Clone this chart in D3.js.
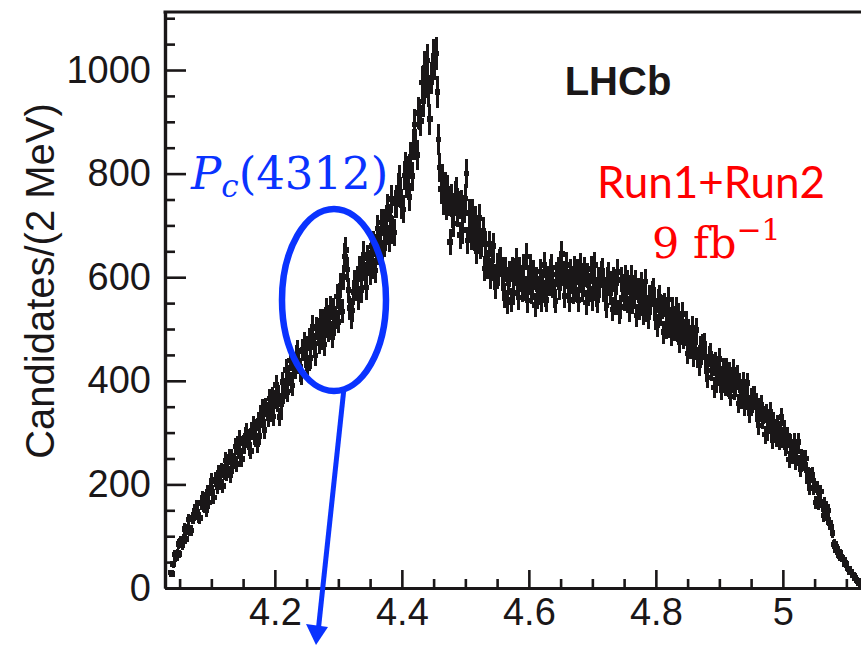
<!DOCTYPE html>
<html><head><meta charset="utf-8">
<script src="https://cdn.jsdelivr.net/npm/d3@7"></script>
<style>html,body{margin:0;padding:0;background:#fff}svg{display:block}</style>
</head><body>
<svg id="chart" width="861" height="645"></svg>
<script>
// m(J/psi p) histogram, 2 MeV bins starting at 4.035 GeV
const binStart = 4.035;
const binWidth = 0.002;
const counts = [
30,27,46,65,58,67,85,66,91,83,
94,114,95,113,132,111,111,135,135,149,
157,147,137,135,164,174,160,172,150,185,
165,191,207,186,175,209,204,195,223,203,
227,197,224,246,221,230,253,217,252,235,
245,273,239,265,288,254,249,279,276,294,
302,286,271,265,304,314,293,308,277,322,
294,327,347,320,305,348,341,329,366,339,
369,331,364,392,359,372,330,354,398,374,
385,421,378,410,439,397,391,429,425,448,
458,439,419,413,460,472,446,464,425,480,
444,482,505,471,449,501,491,473,515,481,
515,470,506,537,498,510,540,485,537,509,
522,563,514,550,584,534,600,640,652,615,
575,540,522,536,571,590,578,598,560,616,
575,618,644,604,580,637,628,610,660,622,
664,613,657,694,650,667,706,645,706,676,
689,734,674,714,751,691,686,742,741,773,
788,764,739,731,796,813,780,805,755,833,
795,856,895,856,836,917,914,902,976,940,
1005,978,1018,960,905,985,1002,1028,1012,1032,
958,866,812,770,790,748,775,738,770,745,
668,753,721,704,758,766,724,739,681,742,
691,731,752,800,671,724,705,678,724,677,
711,651,687,714,661,665,690,617,663,621,
628,664,602,632,660,599,583,621,608,629,
634,606,578,565,615,552,589,606,556,615,
570,609,631,588,561,614,599,576,619,578,
640,555,591,619,572,581,609,546,596,562,
571,611,556,590,623,567,556,597,588,610,
619,592,565,554,605,615,581,597,645,607,
564,603,624,583,556,610,595,573,617,576,
610,556,593,622,576,586,615,551,603,568,
577,616,559,593,624,567,555,595,584,606,
612,585,558,545,595,604,570,587,538,595,
551,589,610,532,542,595,579,558,600,558,
590,537,572,599,553,562,589,526,575,541,
550,586,530,562,592,536,523,561,550,569,
575,548,521,507,554,562,528,542,494,547,
504,539,557,516,489,538,522,499,539,498,
527,475,505,529,484,490,513,453,497,464,
471,502,448,474,498,445,431,464,452,468,
471,445,419,406,447,452,420,431,387,435,
396,426,442,406,382,424,410,390,424,389,
416,370,399,421,382,388,410,356,396,365,
370,398,351,375,396,350,337,367,356,370,
371,349,326,314,349,353,325,334,296,336,
302,328,340,307,285,321,307,289,317,284,
305,330,288,306,272,275,293,248,281,256,
261,283,244,264,282,241,229,252,242,251,
250,228,206,193,217,218,193,198,165,193,
164,180,186,159,140,162,150,134,150,125,
118,106,84,86,73,76,64,67,57,58,
55,46,47,38,37,31,31,25,24,19,
16,14,9,7,3
];
const xMajorTicks = [4.2, 4.4, 4.6, 4.8, 5.0];
const xTickLabels = ["4.2", "4.4", "4.6", "4.8", "5"];
const xMinorTicks = [4.05,4.10,4.15,4.25,4.30,4.35,4.45,4.50,4.55,4.65,4.70,4.75,4.85,4.90,4.95,5.05,5.10];
const yMajorTicks = [0, 200, 400, 600, 800, 1000];
const yMinorTicks = [50,100,150,250,300,350,450,500,550,650,700,750,850,900,950,1050,1100];
const xDomain = [4.027, 5.13];
const yDomain = [0, 1112];
const yTitle = "Candidates/(2 MeV)";
const expLabel = "LHCb";

const svg = d3.select("#chart");
const L = 165, B = 588, T = 12;
const x = d3.scaleLinear().domain(xDomain).range([L, L + (xDomain[1]-xDomain[0])*635]);
const y = d3.scaleLinear().domain(yDomain).range([B, T]);

const data = counts.map((c, i) => ({lo: binStart + i*binWidth, hi: binStart + (i+1)*binWidth, c}));
const ink = "#1a1718";

// data points with error bars
const g = svg.append("g").attr("shape-rendering", "crispEdges");
g.selectAll("line.err").data(data).join("line")
  .attr("x1", d => x((d.lo+d.hi)/2)).attr("x2", d => x((d.lo+d.hi)/2))
  .attr("y1", d => y(d.c - Math.sqrt(d.c))).attr("y2", d => y(d.c + Math.sqrt(d.c)))
  .attr("stroke", ink).attr("stroke-width", 3);
g.selectAll("rect.pt").data(data).join("rect")
  .attr("x", d => x((d.lo+d.hi)/2) - 2.8).attr("y", d => y(d.c) - 2.8)
  .attr("width", 5.6).attr("height", 5.6).attr("fill", ink);

// axes
const fontAx = "'Liberation Sans', Arial, Helvetica, sans-serif";
const yAxis = d3.axisLeft(y).tickValues(yMajorTicks).tickSizeInner(-21).tickSizeOuter(0).tickPadding(14).tickFormat(d3.format("d"));
const yMinor = d3.axisLeft(y).tickValues(yMinorTicks).tickSizeInner(-10).tickSizeOuter(0).tickFormat("");
const xAxis = d3.axisBottom(x).tickValues(xMajorTicks).tickSizeInner(-18).tickSizeOuter(0).tickPadding(10).tickFormat((d,i) => xTickLabels[i]);
const xMinor = d3.axisBottom(x).tickValues(xMinorTicks).tickSizeInner(-9).tickSizeOuter(0).tickFormat("");

function style(sel){
  sel.selectAll("path.domain").attr("stroke", ink).attr("stroke-width", 3.2);
  sel.selectAll(".tick line").attr("stroke", ink).attr("stroke-width", 2.6);
  sel.selectAll(".tick text").attr("fill", ink).style("font-family", fontAx).style("font-size", "38px");
}
svg.append("g").attr("transform", `translate(${L},0)`).call(yMinor).call(style);
svg.append("g").attr("transform", `translate(${L},0)`).call(yAxis).call(style);
svg.append("g").attr("transform", `translate(0,${B})`).call(xMinor).call(style);
svg.append("g").attr("transform", `translate(0,${B})`).call(xAxis).call(style);
svg.append("line").attr("x1", L-1.5).attr("x2", 861).attr("y1", T).attr("y2", T).attr("stroke", ink).attr("stroke-width", 3.2);

// y title
svg.append("text").attr("transform", "translate(54,281) rotate(-90)")
  .attr("text-anchor", "middle").style("font-family", fontAx).style("font-size", "40px").attr("fill", ink).text(yTitle);

// LHCb
svg.append("text").attr("x", 618).attr("y", 95).attr("text-anchor", "middle")
  .style("font-family", fontAx).style("font-weight", "bold").style("font-size", "40px").attr("fill", ink).text(expLabel);

// red annotation
svg.append("text").attr("x", 711).attr("y", 198).attr("text-anchor", "middle")
  .style("font-family", "Lato, 'Open Sans', sans-serif").style("font-size", "44px").attr("fill", "#ff0000").text("Run1+Run2");
const lum = svg.append("text").attr("x", 652).attr("y", 258)
  .style("font-family", "'DejaVu Serif', serif").style("font-size", "43px").attr("fill", "#ff0000");
lum.append("tspan").text("9 fb");
lum.append("tspan").attr("dy", -18).style("font-size", "30px").text("\u22121");

// blue annotation
const blue = "#0a33ff";
const pc = svg.append("text").attr("x", 191).attr("y", 189)
  .style("font-family", "'DejaVu Serif', serif").style("font-size", "45px").attr("fill", blue);
pc.append("tspan").style("font-style", "italic").text("P");
pc.append("tspan").attr("dy", 8).style("font-style", "italic").style("font-size", "31px").text("c");
pc.append("tspan").attr("dy", -8).text("(4312)");

svg.append("ellipse").attr("cx", 334).attr("cy", 300).attr("rx", 52).attr("ry", 91)
  .attr("fill", "none").attr("stroke", blue).attr("stroke-width", 6.5);
svg.append("line").attr("x1", 344).attr("y1", 388).attr("x2", 318.5).attr("y2", 628)
  .attr("stroke", blue).attr("stroke-width", 5);
svg.append("path").attr("d", "M306,624 L328,627 L316,645 Z").attr("fill", blue);
</script>
</body></html>
